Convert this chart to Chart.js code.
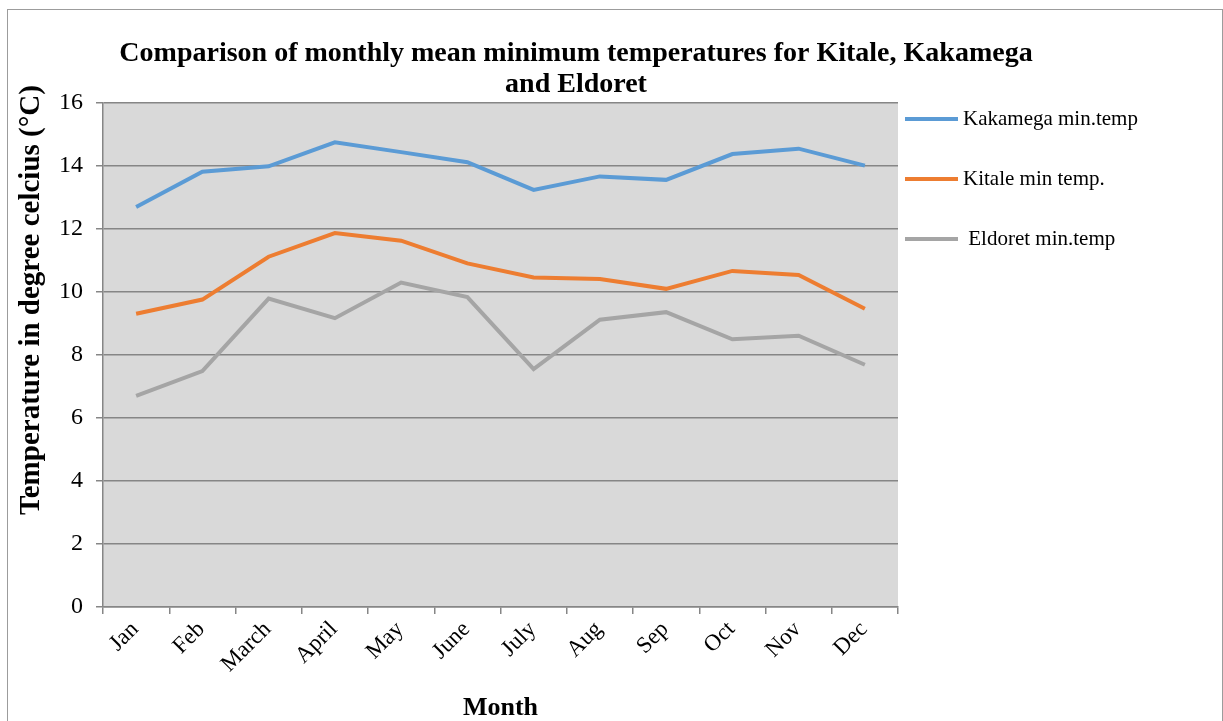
<!DOCTYPE html>
<html>
<head>
<meta charset="utf-8">
<script src="https://cdn.jsdelivr.net/npm/chart.js@4.4.1/dist/chart.umd.min.js"></script>
<style>
html, body { margin: 0; padding: 0; background: #fff; overflow: hidden; }
#wrap { position: relative; width: 1223px; height: 721px; }
#frame { position: absolute; left: 7px; top: 9px; width: 1216px; height: 800px; border: 1px solid #9c9c9c; box-sizing: border-box; }
#chart { position: absolute; left: 0; top: 0; }
</style>
</head>
<body>
<div id="wrap">
  <div id="frame"></div>
  <canvas id="chart" width="1223" height="721"></canvas>
</div>
<script>
// data
const months = ['Jan', 'Feb', 'March', 'April', 'May', 'June', 'July', 'Aug', 'Sep', 'Oct', 'Nov', 'Dec'];
const kakamega = [12.7, 13.82, 13.99, 14.75, 14.44, 14.12, 13.24, 13.67, 13.56, 14.38, 14.55, 14.01];
const kitale = [9.31, 9.76, 11.12, 11.87, 11.63, 10.91, 10.46, 10.41, 10.1, 10.67, 10.54, 9.47];
const eldoret = [6.7, 7.49, 9.79, 9.17, 10.3, 9.84, 7.55, 9.12, 9.36, 8.5, 8.61, 7.69];
const yTicks = [0, 2, 4, 6, 8, 10, 12, 14, 16];

const seriesNames = ['Kakamega min.temp', 'Kitale min temp.', ' Eldoret min.temp'];
const seriesColors = ['#5b9bd5', '#ed7d31', '#a5a5a5'];
const titleLines = ['Comparison of monthly mean minimum temperatures for Kitale, Kakamega', 'and Eldoret'];
const yTitle = 'Temperature in degree celcius (°C)';

const FONT = "'Liberation Serif', 'Times New Roman', serif";
const AXIS = '#868686';

// grey plot background
const plotBg = {
    id: 'plotBg',
    beforeDraw(chart) {
        const a = chart.chartArea;
        const c = chart.ctx;
        c.save();
        c.fillStyle = '#d9d9d9';
        c.fillRect(a.left, a.top, a.right - a.left, a.bottom - a.top);
        c.restore();
    }
};

// chart title (two lines) and the vertical axis title, placed like the original
const titleText = {
    id: 'titleText',
    afterDraw(chart) {
        const c = chart.ctx;
        c.save();
        c.fillStyle = '#000';
        c.font = 'bold 28px ' + FONT;
        c.textAlign = 'center';
        c.textBaseline = 'alphabetic';
        titleLines.forEach((t, i) => c.fillText(t, 576, 61 + i * 31));

        c.translate(32, 300);
        c.rotate(-Math.PI / 2);
        c.font = 'bold 29px ' + FONT;
        c.textBaseline = 'middle';
        c.fillText(yTitle, 0, 0);
        c.restore();
    }
};

// legend at the right, line + label
const sideLegend = {
    id: 'sideLegend',
    afterDraw(chart) {
        const c = chart.ctx;
        c.save();
        chart.data.datasets.forEach((ds, i) => {
            const y = 119 + i * 60;
            c.strokeStyle = ds.borderColor;
            c.lineWidth = 4;
            c.beginPath();
            c.moveTo(905, y);
            c.lineTo(958, y);
            c.stroke();
            c.fillStyle = '#000';
            c.font = '21px ' + FONT;
            c.textBaseline = 'middle';
            c.textAlign = 'left';
            c.fillText(ds.label, 963, y);
        });
        c.restore();
    }
};

const datasets = [kakamega, kitale, eldoret].map((vals, i) => ({
    label: seriesNames[i],
    data: vals,
    borderColor: seriesColors[i],
    backgroundColor: seriesColors[i],
    borderWidth: 4,
    pointRadius: 0,
    tension: 0,
    fill: false
}));

new Chart(document.getElementById('chart'), {
    type: 'line',
    data: { labels: months, datasets: datasets },
    plugins: [plotBg, titleText, sideLegend],
    options: {
        responsive: false,
        animation: false,
        layout: { padding: { left: 8, right: 325, top: 103, bottom: 0 } },
        plugins: {
            legend: { display: false },
            title: { display: false },
            tooltip: { enabled: false }
        },
        scales: {
            x: {
                offset: true,
                grid: { offset: true, drawOnChartArea: false, color: AXIS, lineWidth: 1.5, tickLength: 7 },
                border: { color: AXIS, width: 1.5 },
                ticks: {
                    minRotation: 45, maxRotation: 45, color: '#000',
                    font: { family: FONT, size: 23 }, padding: 2, labelOffset: -1
                },
                title: {
                    display: true, text: 'Month', color: '#000',
                    font: { family: FONT, size: 26, weight: 'bold', lineHeight: 1 },
                    padding: { top: 0, bottom: 0 }
                },
                afterFit: s => { s.height = 114; }
            },
            y: {
                min: 0, max: 16,
                afterBuildTicks: s => { s.ticks = yTicks.map(v => ({ value: v })); },
                grid: { color: AXIS, lineWidth: 1.5, tickLength: 7 },
                border: { color: AXIS, width: 1.5 },
                ticks: { color: '#000', font: { family: FONT, size: 24 }, padding: 13 },
                afterFit: s => { s.width = 95; }
            }
        }
    }
});
</script>
</body>
</html>
